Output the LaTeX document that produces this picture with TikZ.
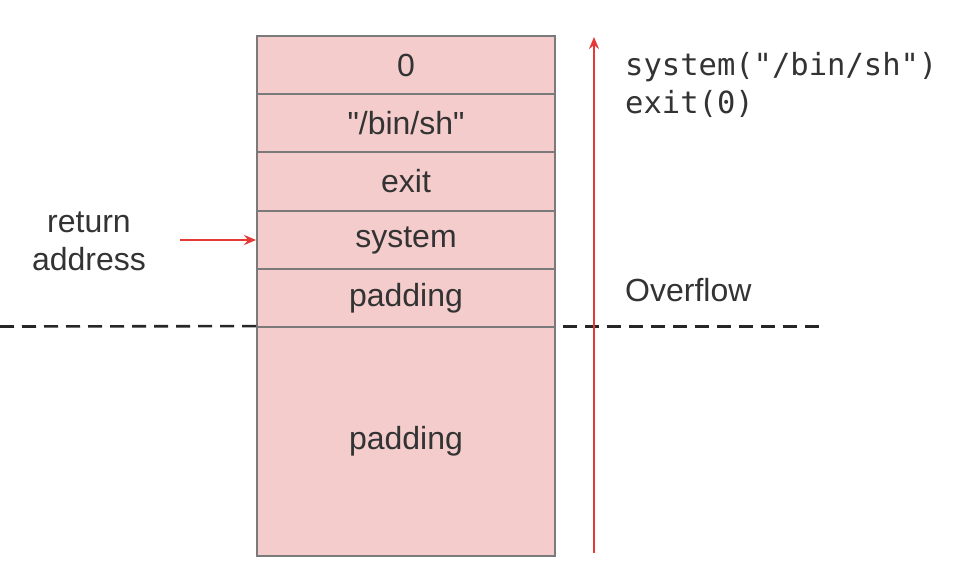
\documentclass[tikz,border=0pt]{standalone}
\usepackage{fontspec}
\setmainfont{Liberation Sans}[Ligatures=TeXOff]
\newfontfamily\codefont{DejaVu Sans Mono}[Ligatures=TeXOff]
\usetikzlibrary{arrows.meta}
\definecolor{cellfill}{HTML}{F4CCCC}
\definecolor{cellborder}{HTML}{7A7A7A}
\definecolor{arrowred}{HTML}{E53935}
\definecolor{txt}{HTML}{333333}
\tikzset{
  cell/.style={draw=cellborder, line width=1.8pt, fill=cellfill, minimum width=298pt, inner sep=0pt, text=txt, font=\fontsize{32}{38}\selectfont},
  lbl/.style={text=txt, font=\fontsize{32}{38}\selectfont, inner sep=0pt},
  code/.style={text=txt, font=\codefont\fontsize{30.5}{36}\selectfont, inner sep=0pt},
  redarrow/.style={draw=arrowred, line width=2.8pt, -{Stealth[length=12pt,width=10pt]}},
  sep/.style={draw=black!85, line width=2.6pt, dash pattern=on 14pt off 8pt}
}
\begin{document}
\begin{tikzpicture}[x=1pt,y=-1pt]
\useasboundingbox (0,0) rectangle (979,576);
\node[cell, minimum height=58pt] (r0) at (406,65) {0};
\node[cell, minimum height=58pt] (r1) at (406,123) {"/bin/sh"};
\node[cell, minimum height=58pt] (r2) at (406,181.5) {exit};
\node[cell, minimum height=58pt] (r3) at (406,240) {system};
\node[cell, minimum height=58pt] (r4) at (406,298) {padding};
\node[cell, minimum height=229pt] (r5) at (406,441.5) {padding};

\coordinate (dl) at (0,326.5);
\coordinate (dr1) at (563,326.5);
\coordinate (dr2) at (820,326.5);
\draw[sep] (dl) -- (r5.north west);
\draw[sep] (dr1) -- (dr2);

\coordinate (ovb) at (594,553);
\coordinate (ovt) at (594,37);
\draw[redarrow] (ovb) -- (ovt);

\coordinate (ra) at (180,240);
\draw[redarrow] (ra) -- (r3.west);

\node[lbl, anchor=base] (ret) at (89,232) {return};
\node[lbl, anchor=base] (addr) at (89,270) {address};
\node[lbl, anchor=base west] (ovf) at (625,301) {Overflow};
\node[code, anchor=base west] (c1) at (625,75) {system("/bin/sh")};
\node[code, anchor=base west] (c2) at (625,113) {exit(0)};
\end{tikzpicture}
\end{document}
